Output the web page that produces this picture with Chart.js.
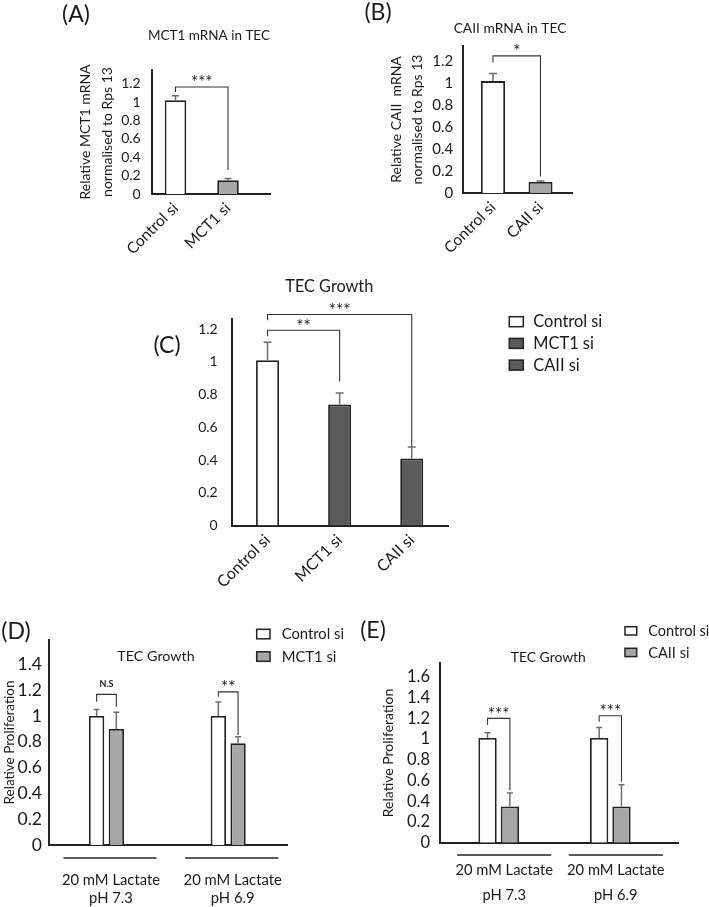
<!DOCTYPE html>
<html>
<head>
<meta charset="utf-8">
<script src="https://cdn.jsdelivr.net/npm/chart.js@4.4.1/dist/chart.umd.min.js"></script>
<style>
html,body{margin:0;padding:0;background:#ffffff;}
#wrap{position:relative;width:709px;height:907px;overflow:hidden;background:#fff;}
#wrap canvas{position:absolute;left:0;top:0;width:709px;height:907px;}
</style>
</head>
<body>
<div id="wrap">
<canvas id="cA" width="709" height="907"></canvas>
<canvas id="cB" width="709" height="907"></canvas>
<canvas id="cC" width="709" height="907"></canvas>
<canvas id="cD" width="709" height="907"></canvas>
<canvas id="cE" width="709" height="907"></canvas>
</div>
<script>
// ---------------- DATA ----------------
const catsA = ['Control si', 'MCT1 si'];
const valsA = [1.02, 0.15];
const errsA = [0.05, 0.02];
const ticksA = [0, 0.2, 0.4, 0.6, 0.8, 1, 1.2];
const sigA = [[0, 1, 1.165, 1.11, 0.26, '***']];

const catsB = ['Control si', 'CAII si'];
const valsB = [1.02, 0.10];
const errsB = [0.07, 0.01];
const ticksB = [0, 0.2, 0.4, 0.6, 0.8, 1, 1.2];
const sigB = [[0, 1, 1.25, 1.19, 0.15, '*']];

const catsC = ['Control si', 'MCT1 si', 'CAII si'];
const valsC = [1.01, 0.74, 0.41];
const errsC = [0.11, 0.07, 0.07];
const ticksC = [0, 0.2, 0.4, 0.6, 0.8, 1, 1.2];
const sigC = [[0, 1, 1.193, 1.156, 0.88, '**'], [0, 2, 1.289, 1.254, 0.483, '***']];

const groupsDE = [['20 mM Lactate', 'pH 7.3'], ['20 mM Lactate', 'pH 6.9']];

const seriesD = ['Control si', 'MCT1 si'];
const ctrlD = [1.0, 1.0];
const ctrlErrD = [0.05, 0.11];
const mctD = [0.90, 0.79];
const mctErrD = [0.13, 0.05];
const ticksD = [0, 0.2, 0.4, 0.6, 0.8, 1, 1.2, 1.4];
const sigD = [[0, 1.168, 1.111, 1.072, 'N.S'], [1, 1.188, 1.15, 0.853, '**']];

const seriesE = ['Control si', 'CAII si'];
const ctrlE = [1.01, 1.01];
const ctrlErrE = [0.05, 0.10];
const caE = [0.35, 0.35];
const caErrE = [0.13, 0.21];
const ticksE = [0, 0.2, 0.4, 0.6, 0.8, 1, 1.2, 1.4, 1.6];
const sigE = [[0, 1.199, 1.134, 0.509, '***'], [1, 1.224, 1.166, 0.588, '***']];

// ---------------- STYLE ----------------
const FONT = 'Lato, "Open Sans", "DejaVu Sans", sans-serif';
const TXT = '#1a1a1a';
const INK = '#222222';
const WHITE = '#ffffff';
const LIGHT = '#a6a6a6';
const DARK = '#5a5a5a';
const ERR = '#6e6e6e';
const BRK = '#333333';
const W = 709, H = 907;

Chart.defaults.font.family = FONT;
Chart.defaults.color = TXT;

function fmt(v) { return String(Math.round(v * 100) / 100); }

function decor(p) {
  return {
    id: 'decor',
    afterDatasetsDraw(chart) {
      const ctx = chart.ctx, ys = chart.scales.y;
      // error bars (upper only)
      chart.data.datasets.forEach((ds, di) => {
        const meta = chart.getDatasetMeta(di);
        meta.data.forEach((bar, i) => {
          const top = ys.getPixelForValue(ds.data[i] + ds.err[i]);
          ctx.save();
          ctx.strokeStyle = ERR; ctx.lineWidth = 1.5;
          ctx.beginPath();
          ctx.moveTo(bar.x, bar.y); ctx.lineTo(bar.x, top);
          ctx.moveTo(bar.x - p.cap, top); ctx.lineTo(bar.x + p.cap, top);
          ctx.stroke();
          ctx.restore();
        });
      });
      // significance brackets
      p.brackets.forEach(([a, b, t, lb, rb, label]) => {
        const x1 = chart.getDatasetMeta(a[0]).data[a[1]].x;
        const x2 = chart.getDatasetMeta(b[0]).data[b[1]].x;
        const yt = ys.getPixelForValue(t), yl = ys.getPixelForValue(lb), yr = ys.getPixelForValue(rb);
        ctx.save();
        ctx.strokeStyle = BRK; ctx.lineWidth = 1.1;
        ctx.beginPath();
        ctx.moveTo(x1, yl); ctx.lineTo(x1, yt); ctx.lineTo(x2, yt); ctx.lineTo(x2, yr);
        ctx.stroke();
        const isText = /[A-Za-z]/.test(label);
        ctx.font = (isText ? 'bold ' + p.nsSize : p.starSize) + 'px ' + FONT;
        ctx.fillStyle = TXT; ctx.textAlign = 'center'; ctx.textBaseline = 'alphabetic';
        const m = ctx.measureText(label);
        const cy = yt - (isText ? 11 : 8.5);
        const by = cy + (m.actualBoundingBoxAscent - m.actualBoundingBoxDescent) / 2;
        ctx.fillText(label, (x1 + x2) / 2, by);
        ctx.restore();
      });
    },
    afterDraw(chart) {
      const ctx = chart.ctx;
      ctx.save();
      ctx.fillStyle = TXT;
      ctx.textAlign = 'center'; ctx.textBaseline = 'middle';
      // panel letter
      ctx.font = p.letter.size + 'px ' + FONT;
      ctx.fillText(p.letter.text, p.letter.x, p.letter.y);
      // title
      ctx.font = p.title.size + 'px ' + FONT;
      ctx.fillText(p.title.text, p.title.x, p.title.y);
      // category separators (multi-level axis lines)
      if (p.sep) {
        const xs = chart.scales.x;
        ctx.strokeStyle = INK; ctx.lineWidth = 1.5;
        p.cats.forEach((_, i) => {
          const cx = xs.getPixelForValue(i) + p.sep.offset;
          const y = chart.chartArea.bottom + p.sep.dy;
          ctx.beginPath(); ctx.moveTo(cx - p.sep.half, y); ctx.lineTo(cx + p.sep.half, y); ctx.stroke();
        });
      }
      // legend
      const lg = p.legend;
      ctx.textAlign = 'left';
      ctx.font = lg.size + 'px ' + FONT;
      lg.items.forEach((it, i) => {
        const top = lg.y + i * lg.dy;
        ctx.fillStyle = it.color;
        ctx.fillRect(lg.x, top, lg.w, lg.h);
        ctx.strokeStyle = INK; ctx.lineWidth = 1.5;
        ctx.strokeRect(lg.x, top, lg.w, lg.h);
        ctx.fillStyle = TXT;
        ctx.fillText(it.label, lg.tx, top + lg.h / 2 + 0.5);
      });
      ctx.restore();
    }
  };
}

function panel(id, p) {
  return new Chart(document.getElementById(id), {
    type: 'bar',
    data: {
      labels: p.cats.map((_, i) => i),
      datasets: p.datasets.map(d => ({
        label: d.label, data: d.data, err: d.err,
        backgroundColor: d.color, borderColor: INK, borderWidth: 1.8,
        categoryPercentage: p.catPct, barPercentage: p.barPct
      }))
    },
    options: {
      responsive: false, animation: false, devicePixelRatio: 1,
      layout: { padding: { left: p.yBoxLeft, top: p.area[1], right: W - p.area[2], bottom: 0 } },
      plugins: { legend: { display: false }, tooltip: { enabled: false }, title: { display: false } },
      scales: {
        x: {
          type: 'linear', min: p.xRange[0], max: p.xRange[1], offset: false,
          grid: { display: false, drawTicks: false },
          border: { display: true, color: INK, width: 2 },
          afterBuildTicks: s => { s.ticks = p.cats.map((_, i) => ({ value: i })); },
          afterFit: s => { s.height = H - p.area[3]; },
          ticks: {
            autoSkip: false, maxRotation: p.rot, minRotation: p.rot,
            padding: p.xPad, labelOffset: p.xLabelOffset || 0,
            font: p.xFont, color: TXT,
            callback: v => p.cats[Math.round(v)]
          }
        },
        y: {
          min: 0, max: p.yMax,
          grid: { display: false, drawTicks: false },
          border: { display: true, color: INK, width: 2 },
          afterBuildTicks: s => { s.ticks = p.yTicks.map(v => ({ value: v })); },
          afterFit: s => { s.width = p.area[0] - p.yBoxLeft; },
          ticks: { autoSkip: false, padding: p.yPad, font: { size: p.yFont }, color: TXT, callback: v => fmt(v) },
          title: p.yTitle
            ? { display: true, text: p.yTitle, font: p.yTitleFont, color: TXT, padding: 0 }
            : { display: false }
        }
      }
    },
    plugins: [decor(p)]
  });
}

function single(sig) { return sig.map(s => [[0, s[0]], [0, s[1]], s[2], s[3], s[4], s[5]]); }
function grouped(sig) { return sig.map(s => [[0, s[0]], [1, s[0]], s[1], s[2], s[3], s[4]]); }

// ---------------- PANEL A ----------------
panel('cA', {
  cats: catsA, area: [151.7, 70, 270.7, 194], yBoxLeft: 74.5,
  xRange: [-0.453, 1.813], yMax: 1.35, yTicks: ticksA, yPad: 11, yFont: 14,
  catPct: 1, barPct: 0.41, rot: 45, xPad: 5, xFont: { size: 15.5 },
  datasets: [{ label: 'mRNA', data: valsA, err: errsA, color: [WHITE, LIGHT] }],
  yTitle: ['Relative MCT1 mRNA', 'normalised to Rps 13'], yTitleFont: { size: 14, lineHeight: '21.7px' },
  cap: 3.5, brackets: single(sigA), starSize: 17, nsSize: 9,
  title: { text: 'MCT1 mRNA in TEC', x: 209, y: 36, size: 13.5 },
  letter: { text: '(A)', x: 76, y: 15, size: 23 },
  legend: { items: [], x: 0, y: 0, dy: 0, w: 0, h: 0, tx: 0, size: 10 }
});

// ---------------- PANEL B ----------------
panel('cB', {
  cats: catsB, area: [463.3, 46, 572.3, 193], yBoxLeft: 386.4,
  xRange: [-0.625, 1.669], yMax: 1.34, yTicks: ticksB, yPad: 10, yFont: 15,
  catPct: 1, barPct: 0.505, rot: 45, xPad: 5, xFont: { size: 15.5 },
  datasets: [{ label: 'mRNA', data: valsB, err: errsB, color: [WHITE, LIGHT] }],
  yTitle: ['Relative CAII  mRNA', 'normalised to Rps 13'], yTitleFont: { size: 14, lineHeight: '20.6px' },
  cap: 4, brackets: single(sigB), starSize: 17, nsSize: 9,
  title: { text: 'CAII mRNA in TEC', x: 510, y: 28.3, size: 13.8 },
  letter: { text: '(B)', x: 378, y: 12.5, size: 23 },
  legend: { items: [], x: 0, y: 0, dy: 0, w: 0, h: 0, tx: 0, size: 10 }
});

// ---------------- PANEL C ----------------
panel('cC', {
  cats: catsC, area: [231.7, 319.3, 448, 525.5], yBoxLeft: 190,
  xRange: [-0.497, 2.503], yMax: 1.26, yTicks: ticksC, yPad: 14, yFont: 14,
  catPct: 1, barPct: 0.319, rot: 45, xPad: 5, xFont: { size: 16 },
  datasets: [{ label: 'Growth', data: valsC, err: errsC, color: [WHITE, DARK, DARK] }],
  yTitle: null,
  cap: 4, brackets: single(sigC), starSize: 17, nsSize: 9,
  title: { text: 'TEC Growth', x: 329.3, y: 286.7, size: 16.3 },
  letter: { text: '(C)', x: 167, y: 346, size: 23 },
  legend: {
    items: catsC.map((c, i) => ({ label: c, color: [WHITE, DARK, DARK][i] })),
    x: 509.3, y: 316.7, dy: 21.7, w: 14, h: 10, tx: 533.3, size: 16.4
  }
});

// ---------------- PANEL D ----------------
panel('cD', {
  cats: groupsDE, area: [49, 640, 287, 845], yBoxLeft: 1,
  xRange: [-0.472, 1.483], yMax: 1.59, yTicks: ticksD, yPad: 7, yFont: 17.5,
  catPct: 0.324, barPct: 0.777, rot: 0, xPad: 26, xLabelOffset: 4.5,
  xFont: { size: 14.8, lineHeight: '18px' },
  datasets: [
    { label: seriesD[0], data: ctrlD, err: ctrlErrD, color: WHITE },
    { label: seriesD[1], data: mctD, err: mctErrD, color: LIGHT }
  ],
  yTitle: 'Relative Proliferation', yTitleFont: { size: 13.5, lineHeight: '17px' },
  cap: 3, brackets: grouped(sigD), starSize: 17, nsSize: 9,
  sep: { offset: 3.5, half: 46.5, dy: 13 },
  title: { text: 'TEC Growth', x: 156, y: 656.7, size: 14.3 },
  letter: { text: '(D)', x: 16, y: 632, size: 23 },
  legend: {
    items: seriesD.map((s, i) => ({ label: s, color: [WHITE, LIGHT][i] })),
    x: 256.7, y: 629.3, dy: 22.5, w: 13.3, h: 9.5, tx: 281.7, size: 14.8
  }
});

// ---------------- PANEL E ----------------
panel('cE', {
  cats: groupsDE, area: [440, 663.3, 678.3, 842.7], yBoxLeft: 379.5,
  xRange: [-0.526, 1.609], yMax: 1.73, yTicks: ticksE, yPad: 10, yFont: 16.5,
  catPct: 0.4, barPct: 0.82, rot: 0, xPad: 14.8, xLabelOffset: 5.5,
  xFont: { size: 14.7, lineHeight: '25px' },
  datasets: [
    { label: seriesE[0], data: ctrlE, err: ctrlErrE, color: WHITE },
    { label: seriesE[1], data: caE, err: caErrE, color: LIGHT }
  ],
  yTitle: 'Relative Proliferation', yTitleFont: { size: 14, lineHeight: '17px' },
  cap: 3, brackets: grouped(sigE), starSize: 17, nsSize: 9,
  sep: { offset: 5.5, half: 47, dy: 12.3 },
  title: { text: 'TEC Growth', x: 548.3, y: 657.3, size: 13.9 },
  letter: { text: '(E)', x: 373, y: 631, size: 23 },
  legend: {
    items: seriesE.map((s, i) => ({ label: s, color: [WHITE, LIGHT][i] })),
    x: 625, y: 626.7, dy: 21.6, w: 11.7, h: 8.3, tx: 648.3, size: 14.5
  }
});
</script>
</body>
</html>
